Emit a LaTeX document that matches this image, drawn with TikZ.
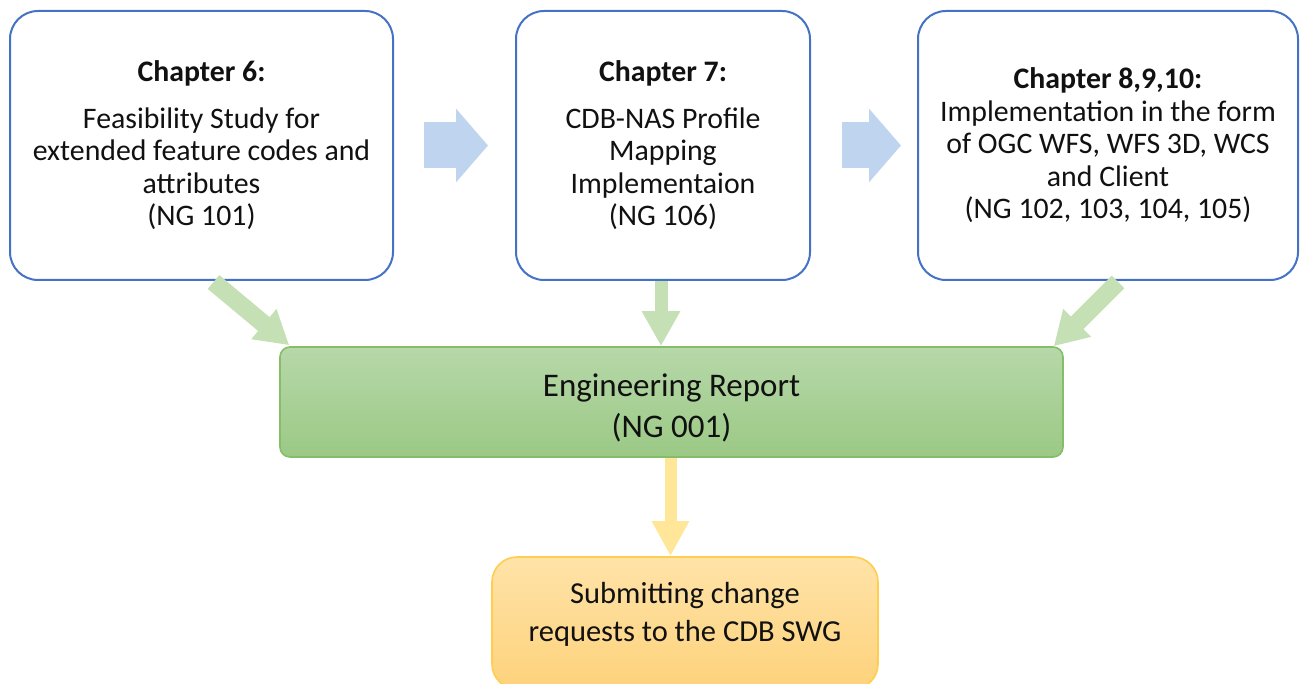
\documentclass[tikz,border=0pt]{standalone}
\usepackage{fontspec}
\setmainfont{Carlito}
\usetikzlibrary{arrows.meta}
\definecolor{boxblue}{HTML}{4472C4}
\definecolor{arrblue}{HTML}{BFD4EE}
\definecolor{arrgreen}{HTML}{C5E0B4}
\definecolor{grtop}{HTML}{B7D8A9}
\definecolor{grbot}{HTML}{9BC985}
\definecolor{grline}{HTML}{86BD68}
\definecolor{arryellow}{HTML}{FFE699}
\definecolor{yetop}{HTML}{FFE3A8}
\definecolor{yebot}{HTML}{FDD27B}
\definecolor{yeline}{HTML}{FFCD4F}
\definecolor{txt}{HTML}{111111}
\begin{document}
\begin{tikzpicture}[x=1pt,y=-1pt,
  chapbox/.style={draw=boxblue, line width=2pt, fill=white, rounded corners=28pt,
    align=center, text=txt, font=\fontsize{29.8}{32.5}\selectfont, inner sep=0pt},
  erbox/.style={draw=grline, line width=1.6pt, top color=grtop, bottom color=grbot,
    rounded corners=10pt, inner sep=0pt},
  ertext/.style={align=center, text=txt, font=\fontsize{33}{41}\selectfont, inner sep=0pt},
  subbox/.style={draw=yeline, line width=1.6pt, top color=yetop, bottom color=yebot,
    rounded corners=25pt, inner sep=0pt},
  subtext/.style={align=center, text=txt, font=\fontsize{30.5}{38}\selectfont, inner sep=0pt},
  bluearr/.style={draw=arrblue, line width=46pt, -{Triangle[width=72pt,length=32pt]}},
  greenarr/.style={draw=arrgreen, line width=18pt, -{Triangle[width=37pt,length=33pt]}},
  greenmid/.style={draw=arrgreen, line width=13pt, -{Triangle[width=36pt,length=35pt]}},
  yellowarr/.style={draw=arryellow, line width=12pt, -{Triangle[width=35pt,length=35pt]}}
]
\useasboundingbox (0,0) rectangle (1301,684);

\node[chapbox, minimum width=383pt, minimum height=269pt] (b1) at (201.5,145.5)
  {\textbf{Chapter 6:}\\[14pt]Feasibility Study for\\extended feature codes and\\attributes\\(NG 101)};
\node[chapbox, minimum width=294pt, minimum height=269pt] (b2) at (663,145.5)
  {\textbf{Chapter 7:}\\[14pt]CDB-NAS Profile\\Mapping\\Implementaion\\(NG 106)};
\node[chapbox, minimum width=380pt, minimum height=269pt] (b3) at (1108,145.5)
  {\textbf{Chapter 8,9,10:}\\Implementation in the form\\of OGC WFS, WFS 3D, WCS\\and Client\\(NG 102, 103, 104, 105)};

\node[erbox, minimum width=783pt, minimum height=110pt,
  label={[ertext, yshift=-5.5pt]center:Engineering Report\\(NG 001)}] (er) at (671.5,402) {};
\node[subbox, minimum width=386pt, minimum height=132pt,
  label={[subtext, yshift=9pt]center:Submitting change\\requests to the CDB SWG}] (sub) at (685,623) {};

\draw[bluearr] ([xshift=30pt]b1.east) -- ([xshift=-27pt]b2.west);
\draw[bluearr] ([xshift=31pt]b2.east) -- ([xshift=-16pt]b3.west);

\draw[greenarr] ([xshift=12pt,yshift=-1pt]b1.south) -- ([xshift=10pt,yshift=1pt]er.north west);
\draw[greenmid] ([xshift=-2pt]b2.south) -- ([xshift=-2pt]b2.south |- er.north);
\draw[greenarr] ([xshift=10pt,yshift=-1pt]b3.south) -- ([xshift=-10pt,yshift=0pt]er.north east);

\draw[yellowarr] ([xshift=-1pt]er.south) -- ([xshift=-1pt]er.south |- sub.north);
\end{tikzpicture}
\end{document}
